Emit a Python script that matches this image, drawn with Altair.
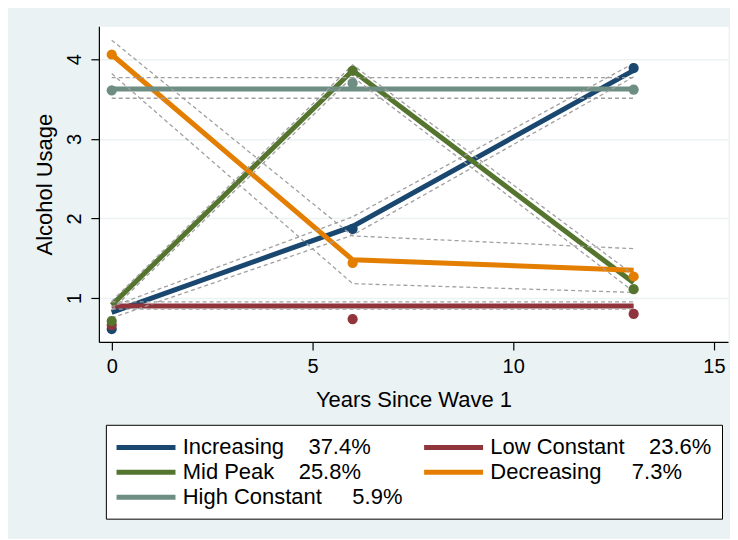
import altair as alt
import pandas as pd

# ---- data ----
times = [0, 6, 13]
groups = ["Increasing", "Low Constant", "Mid Peak", "Decreasing", "High Constant"]
shares = ["37.4%", "23.6%", "25.8%", "7.3%", "5.9%"]
gaps = [4, 4, 4, 5, 5]
colors = ["#1a476f", "#90353b", "#55752f", "#e37e00", "#6e8e84"]

fitted_inc = [0.82, 1.90, 3.86]
fitted_low = [0.90, 0.90, 0.90]
fitted_mid = [0.91, 3.86, 1.19]
fitted_dec = [4.06, 1.48, 1.35]
fitted_high = [3.625, 3.625, 3.625]

obs_inc = [0.61, 1.87, 3.89]
obs_low = [0.66, 0.735, 0.80]
obs_mid = [0.71, 3.855, 1.11]
obs_dec = [4.06, 1.44, 1.27]
obs_high = [3.61, 3.70, 3.62]

up_inc = [0.89, 2.02, 3.95]
lo_inc = [0.75, 1.79, 3.78]
up_low = [0.95, 0.95, 0.95]
lo_low = [0.86, 0.86, 0.86]
up_mid = [0.96, 3.93, 1.29]
lo_mid = [0.85, 3.78, 1.08]
up_dec = [4.24, 1.78, 1.62]
lo_dec = [3.82, 1.18, 1.07]
up_high = [3.77, 3.77, 3.77]
lo_high = [3.51, 3.51, 3.51]

x_ticks = [0, 5, 10, 15]
y_ticks = [1, 2, 3, 4]

# ---- tables ----
labels = [g + "\u00a0" * n + s for g, s, n in zip(groups, shares, gaps)]
fitted = [fitted_inc, fitted_low, fitted_mid, fitted_dec, fitted_high]
observed = [obs_inc, obs_low, obs_mid, obs_dec, obs_high]
uppers = [up_inc, up_low, up_mid, up_dec, up_high]
lowers = [lo_inc, lo_low, lo_mid, lo_dec, lo_high]

rows, ci_rows = [], []
for lab, f, o, u, l in zip(labels, fitted, observed, uppers, lowers):
    for t, fv, ov, uv, lv in zip(times, f, o, u, l):
        rows.append({"label": lab, "time": t, "fitted": fv, "observed": ov})
        ci_rows.append({"series": lab + "_u", "time": t, "value": uv})
        ci_rows.append({"series": lab + "_l", "time": t, "value": lv})
df = pd.DataFrame(rows)
ci_df = pd.DataFrame(ci_rows)

FONT = "Liberation Sans"
xscale = alt.Scale(domain=[-0.32, 15.35], nice=False, zero=False)
yscale = alt.Scale(domain=[0.448, 4.414], nice=False, zero=False)
cscale = alt.Scale(domain=labels, range=colors)

x_axis = alt.Axis(values=x_ticks, title="Years Since Wave 1", grid=False, format="d",
                  tickSize=8, labelPadding=7, titlePadding=13)
y_axis = alt.Axis(values=y_ticks, title="Alcohol Usage", grid=True, format="d",
                  labelAngle=270, tickSize=8, labelPadding=6, titlePadding=8)

legend = alt.Legend(title=None, orient="none", legendX=7, legendY=399,
                    direction="horizontal", columns=2,
                    symbolType="M-1.2,0H4.8", symbolSize=387, symbolStrokeWidth=5,
                    labelFontSize=22, labelFont=FONT, labelOffset=42,
                    columnPadding=10, rowPadding=1, padding=10,
                    strokeColor="black", fillColor="white", labelLimit=400,
                    labelColor="black")

lines = alt.Chart(df).mark_line(strokeWidth=5).encode(
    x=alt.X("time:Q", scale=xscale, axis=x_axis),
    y=alt.Y("fitted:Q", scale=yscale, axis=y_axis),
    color=alt.Color("label:N", scale=cscale, sort=labels, legend=legend),
)

ci = alt.Chart(ci_df).mark_line(strokeWidth=1.3, strokeDash=[4, 3], color="#a0a0a0").encode(
    x=alt.X("time:Q", scale=xscale),
    y=alt.Y("value:Q", scale=yscale),
    detail="series:N",
)

pts = alt.Chart(df).mark_circle(size=105, opacity=1).encode(
    x=alt.X("time:Q", scale=xscale),
    y=alt.Y("observed:Q", scale=yscale),
    color=alt.Color("label:N", scale=cscale, sort=labels, legend=None),
)

chart = alt.layer(lines, ci, pts).properties(
    width=630, height=316,
    autosize=alt.AutoSizeParams(type="none"),
    padding={"left": 91, "top": 18, "right": 2, "bottom": 197},
    background="#eaf2f3",
).configure_view(
    fill="white", stroke="transparent"
).configure_axis(
    domainColor="black", domainWidth=1.2, tickColor="black", tickWidth=1.2,
    labelFont=FONT, labelFontSize=20, labelColor="black",
    titleFont=FONT, titleFontSize=22, titleColor="black", titleFontWeight="normal",
    gridColor="#eaf2f3", gridWidth=1.6,
)

chart.save("out.html", embed_options={"renderer": "svg", "actions": False})
